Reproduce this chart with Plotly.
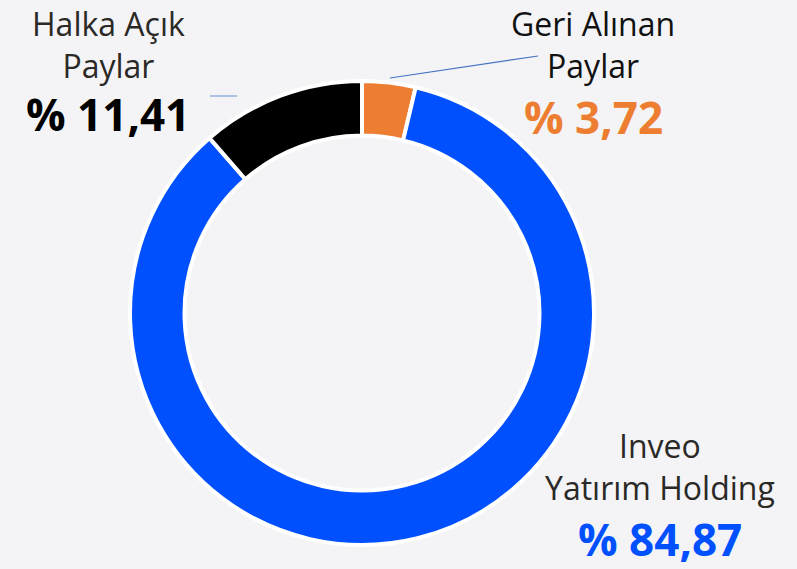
import plotly.graph_objects as go

W, H = 797, 569

labels = ["Geri Alınan Paylar", "Inveo Yatırım Holding", "Halka Açık Paylar"]
values = [3.72, 84.87, 11.41]
colors = ["#ED7D31", "#0050FF", "#000000"]
value_texts = ["% 3,72", "% 84,87", "% 11,41"]
name_texts = ["Geri Alınan<br>Paylar", "Inveo<br>Yatırım Holding", "Halka Açık<br>Paylar"]
name_colors = ["#111111", "#2B2926", "#2B2926"]

FONT = "Open Sans"

def px(x, y):
    return x / W, 1 - y / H

fig = go.Figure(go.Pie(
    labels=labels, values=values, sort=False, direction="clockwise", rotation=0,
    hole=0.765, textinfo="none", hoverinfo="label+value",
    marker=dict(colors=colors, line=dict(color="white", width=4)),
    domain=dict(x=[130 / W, 594 / W], y=[(256 - 232) / H, (256 + 232) / H]),
    showlegend=False,
))

# label positions in pixels: (centre x, name y, name anchor, value y)
label_pos = [
    (593, 44, "middle", 117),
    (660, 466, "middle", 539),
    (108, 0, "top", 114),
]

ann = []
for i, (cx, ny, na, vy) in enumerate(label_pos):
    x, y = px(cx, ny)
    ann.append(dict(x=x, y=y, xref="paper", yref="paper", text=name_texts[i], showarrow=False,
                    xanchor="center", yanchor=na, align="center",
                    font=dict(family=FONT, size=32, color=name_colors[i])))
    x, y = px(cx, vy)
    ann.append(dict(x=x, y=y, xref="paper", yref="paper", text="<b>" + value_texts[i] + "</b>",
                    showarrow=False, xanchor="center", yanchor="middle",
                    font=dict(family=FONT, size=44, color=colors[i])))

shapes = []
for (x0, y0, x1, y1, c) in [(390, 78, 538, 56, "#4472C4"), (210, 96, 237, 96, "#7A9FD9")]:
    a, b = px(x0, y0)
    c2, d = px(x1, y1)
    shapes.append(dict(type="line", xref="paper", yref="paper", x0=a, y0=b, x1=c2, y1=d,
                       line=dict(color=c, width=1.2)))

fig.update_layout(
    width=W, height=H, margin=dict(l=0, r=0, t=0, b=0),
    paper_bgcolor="#F4F4F6", plot_bgcolor="#F4F4F6",
    annotations=ann, shapes=shapes,
)
fig.write_html("out.html", config={"displayModeBar": False},
               post_script="document.body.style.margin='0';document.body.style.overflow='hidden';")
